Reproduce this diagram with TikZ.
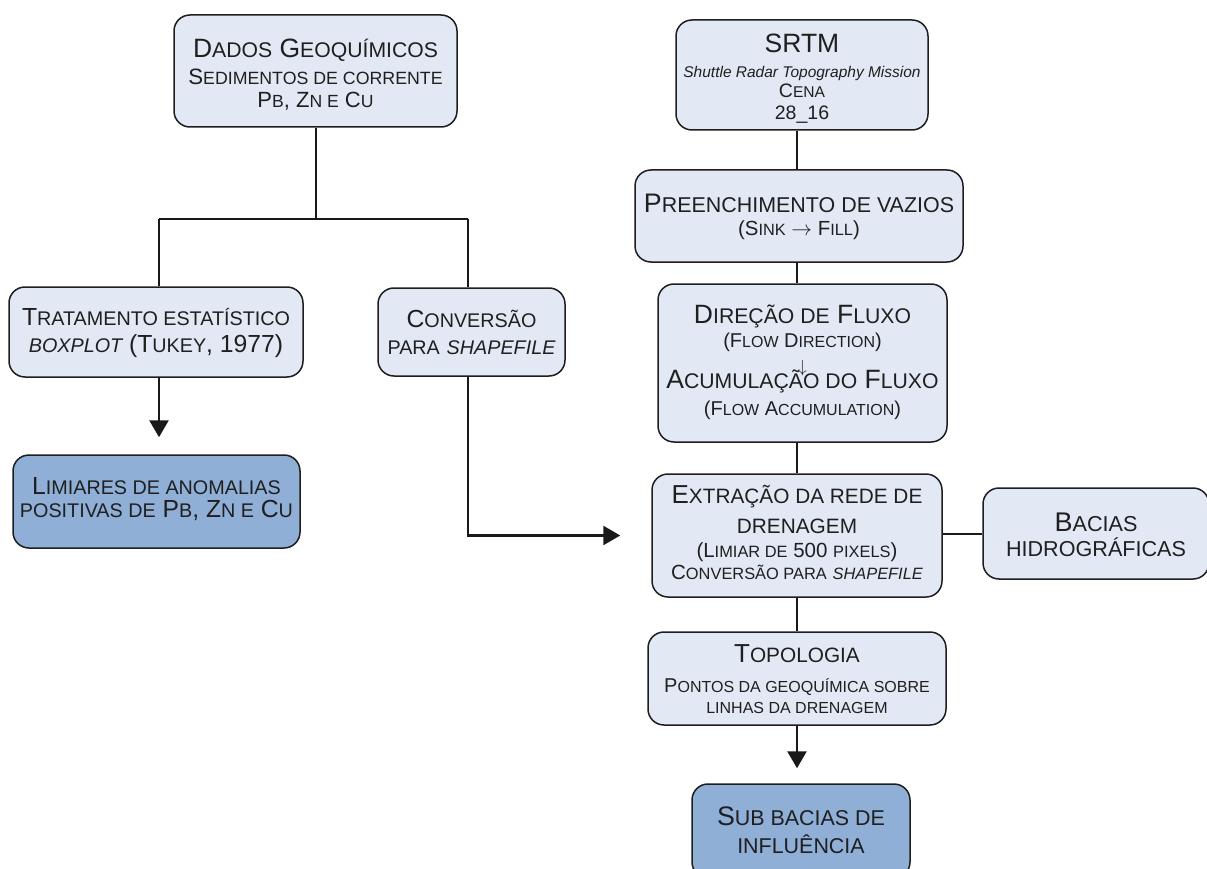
\documentclass[tikz,border=0pt]{standalone}
\usepackage{fontspec}
\setmainfont{Liberation Sans}
\newfontfamily\scf[Scale=0.8]{Liberation Sans}
\newcommand\sm[1]{{\scf #1}}
\newcommand\smi[1]{{\scf\itshape #1}}
\usetikzlibrary{arrows.meta}
\definecolor{lightbox}{HTML}{E2E9F5}
\definecolor{darkbox}{HTML}{8FAFD6}
\definecolor{edge}{HTML}{1E1E1E}
\newcommand\fs[1]{\fontsize{#1}{28}\selectfont}
\newcommand\bfont[1]{\fontsize{#1}{28}\selectfont\lineskiplimit=-1000pt\relax}
\begin{document}
\begin{tikzpicture}[x=1pt,y=-1pt,
  box/.style={draw=edge,line width=1.5pt,rounded corners=16pt,fill=lightbox,
    align=center,inner sep=0pt,text=black!88,text depth=0pt,
    font={\bfont{26.5}}},
  dbox/.style={box,fill=darkbox},
  link/.style={line width=2.6pt,draw=black!90},
  arr/.style={link,-{Triangle[width=19pt,length=17pt]}}]
\useasboundingbox (0,0) rectangle (1207,869);
% left column
\node[box,minimum width=283pt,minimum height=112pt,text height=74pt] (dados) at (315.5,71)
  {D\sm{ADOS} G\sm{EOQUÍMICOS}\\[-1pt]
   \fs{22.2}S\sm{EDIMENTOS DE CORRENTE}\\[-5pt]
   \fs{22}P\sm{B}, Z\sm{N E} C\sm{U}};
\node[box,minimum width=294pt,minimum height=90pt,text height=40pt,font={\bfont{24.7}}] (trat) at (156,332)
  {T\sm{RATAMENTO ESTATÍSTICO}\\[-1pt]
   \smi{BOXPLOT} (T\sm{UKEY}, 1977)};
\node[box,minimum width=187pt,minimum height=88pt,text height=44pt,font={\bfont{24.7}}] (conv) at (471.5,332)
  {C\sm{ONVERSÃO}\\[-1pt] \sm{PARA} \smi{SHAPEFILE}};
\node[dbox,minimum width=287pt,minimum height=93pt,text height=31pt,font={\bfont{24.7}}] (lim) at (156.5,501.5)
  {L\sm{IMIARES DE ANOMALIAS}\\[-5pt] \sm{POSITIVAS DE} P\sm{B}, Z\sm{N E} C\sm{U}};
% right column
\node[box,minimum width=252pt,minimum height=110pt,text height=90pt] (srtm) at (802,75)
  {SRTM\\[-3pt]
   {\fs{15.5}\itshape Shuttle Radar Topography Mission}\\[-8pt]
   \fs{19.5}C\sm{ENA}\\[-6pt]
   \fs{19.5}28\_16};
\node[box,minimum width=328pt,minimum height=92pt,text height=38pt,font={\bfont{26.8}}] (pre) at (799,216)
  {P\sm{REENCHIMENTO DE VAZIOS}\\[-5pt]
   \fs{20.4}(S\sm{INK} $\rightarrow$ F\sm{ILL})};
\node[box,minimum width=289pt,minimum height=158pt,text height=104pt] (dir) at (802.5,363)
  {D\sm{IREÇÃO DE} F\sm{LUXO}\\[-4pt]
   \fs{20}(F\sm{LOW} D\sm{IRECTION})\\[-3pt]
   \fs{16}$\downarrow$\\[-12pt]
   A\sm{CUMULAÇÃO DO} F\sm{LUXO}\\[-1pt]
   \fs{20}(F\sm{LOW} A\sm{CCUMULATION})};
\node[box,minimum width=290pt,minimum height=123pt,text height=87pt,font={\bfont{26}}] (ext) at (797,535.5)
  {E\sm{XTRAÇÃO DA REDE DE}\\[2pt]
   \sm{DRENAGEM}\\[-4pt]
   \fs{20.5}(L\sm{IMIAR DE} 500 \sm{PIXELS})\\[-6pt]
   \fs{20.5}C\sm{ONVERSÃO PARA} \smi{SHAPEFILE}};
\node[box,minimum width=226pt,minimum height=91pt,text height=45pt,font={\bfont{27}}] (bac) at (1096,533.5)
  {B\sm{ACIAS}\\[-3pt] \sm{HIDROGRÁFICAS}};
\node[box,minimum width=298pt,minimum height=93pt,text height=69pt,font={\bfont{26}}] (top) at (797,678.5)
  {T\sm{OPOLOGIA}\\[2pt]
   \fs{20}P\sm{ONTOS DA GEOQUÍMICA SOBRE}\\[-7pt]
   \fs{20}\sm{LINHAS DA DRENAGEM}};
\node[dbox,minimum width=218pt,minimum height=94pt,text height=44pt,font={\bfont{26.8}}] (sub) at (801,831)
  {S\sm{UB BACIAS DE}\\ \sm{INFLUÊNCIA}};
% connectors
\coordinate (split) at (316,219);
\draw[link] (dados.south -| split) -- (split);
\draw[link] (159,219) -- (468,219);
\draw[link] (trat.north -| 159,0) -- (159,219);
\draw[link] (conv.north -| 468,0) -- (468,219);
\draw[arr,shorten >=17pt] (trat.south -| 159,0) -- (lim.north -| 159,0);
\draw[arr,shorten >=31pt] (conv.south -| 468,0) |- (ext.west);
\coordinate (spine) at (797,0);
\draw[link] (srtm.south -| spine) -- (pre.north -| spine);
\draw[link] (pre.south -| spine) -- (dir.north -| spine);
\draw[link] (dir.south -| spine) -- (ext.north -| spine);
\draw[link] (ext.south -| spine) -- (top.north -| spine);
\draw[link,line width=2pt] (bac.west -| ext.east) -- (bac.west);
\draw[arr,shorten >=15pt] (top.south -| spine) -- (sub.north -| spine);
\end{tikzpicture}
\end{document}
